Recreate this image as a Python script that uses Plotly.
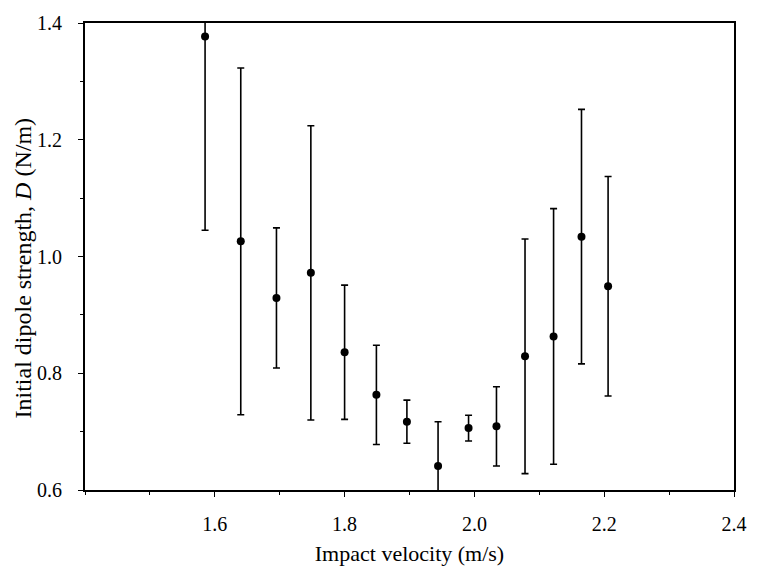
import plotly.graph_objects as go

velocity = [1.585, 1.640, 1.695, 1.748, 1.800, 1.849, 1.896, 1.944, 1.991, 2.034, 2.078, 2.122, 2.165, 2.206]
dipole = [1.377, 1.026, 0.929, 0.972, 0.836, 0.763, 0.717, 0.641, 0.706, 0.709, 0.829, 0.863, 1.034, 0.949]
error = [0.332, 0.297, 0.120, 0.252, 0.115, 0.085, 0.037, 0.076, 0.022, 0.068, 0.201, 0.219, 0.218, 0.188]

x_ticks = [1.6, 1.8, 2.0, 2.2, 2.4]
x_labels = ["1.6", "1.8", "2.0", "2.2", "2.4"]
y_ticks = [0.6, 0.8, 1.0, 1.2, 1.4]
y_labels = ["0.6", "0.8", "1.0", "1.2", "1.4"]

FONT = "Liberation Serif"

fig = go.Figure()
fig.add_trace(go.Scatter(
    x=velocity, y=dipole, mode="markers",
    marker=dict(color="black", size=8),
    error_y=dict(type="data", array=error, visible=True, color="black", thickness=1.6, width=3.5),
    showlegend=False,
))

axis_common = dict(
    showline=True, linecolor="black", linewidth=1.8, mirror=True,
    ticks="outside", ticklen=5, tickwidth=1.3, tickcolor="black",
    showgrid=False, zeroline=False,
    tickfont=dict(family=FONT, size=20, color="black"),
)

fig.update_xaxes(
    range=[1.4, 2.4], tickvals=x_ticks, ticktext=x_labels,
    minor=dict(dtick=0.1, ticks="outside", ticklen=3, tickwidth=1.2, tickcolor="black", tick0=1.4),
    title=dict(text="Impact velocity (m/s)", font=dict(family=FONT, size=22, color="black"), standoff=12),
    ticklabelstandoff=10,
    **axis_common,
)
fig.update_yaxes(
    range=[0.6, 1.4], tickvals=y_ticks, ticktext=y_labels,
    minor=dict(dtick=0.1, ticks="outside", ticklen=3, tickwidth=1.2, tickcolor="black", tick0=0.6),
    ticklabelstandoff=12,
    **axis_common,
)

fig.add_annotation(
    text="Initial dipole strength, <i>D</i> (N/m)",
    xref="paper", yref="paper", x=-0.095, y=0.475,
    xanchor="center", yanchor="middle", textangle=-90, showarrow=False,
    font=dict(family=FONT, size=24, color="black"),
)

fig.update_layout(
    width=759, height=574,
    margin=dict(l=85, r=16, t=17, b=75),
    plot_bgcolor="white", paper_bgcolor="white",
)

fig.write_html("out.html")
